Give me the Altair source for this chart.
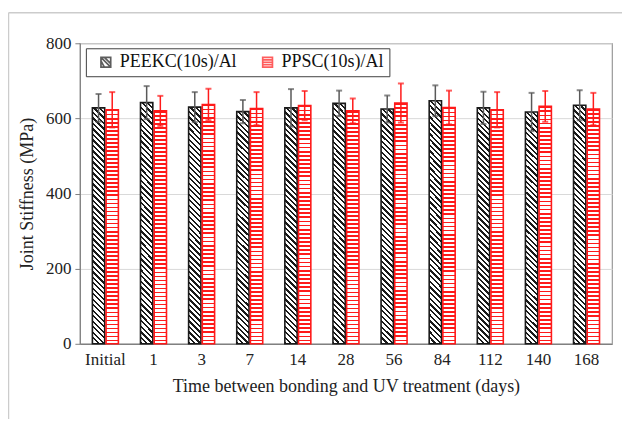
import altair as alt
import pandas as pd

days = ["Initial", "1", "3", "7", "14", "28", "56", "84", "112", "140", "168"]
series_names = ["PEEKC(10s)/Al", "PPSC(10s)/Al"]
peekc = [628, 642, 630, 618, 628, 640, 625, 647, 628, 617, 635]
peekc_err = [37, 44, 40, 31, 50, 34, 36, 41, 43, 51, 40]
ppsc = [623, 620, 637, 626, 634, 620, 641, 629, 623, 632, 625]
ppsc_err = [47, 40, 42, 44, 39, 33, 52, 45, 47, 41, 43]

rows = []
for d, v, e in zip(days, peekc, peekc_err):
    rows.append({"day": d, "series": series_names[0], "value": v, "lo": v - e, "hi": v + e})
for d, v, e in zip(days, ppsc, ppsc_err):
    rows.append({"day": d, "series": series_names[1], "value": v, "lo": v - e, "hi": v + e})
df = pd.DataFrame(rows)

FONT = "Liberation Serif"
RED = "#ff1a1a"
BLACK = "#1a1a1a"
TXT = "#222222"


def stripe_stops(n, period, frac, line, bg):
    stops = []
    for k in range(n):
        a = k * period
        b = a + frac * period
        c = a + period
        if c > 1:
            break
        stops += [
            {"offset": round(a, 6), "color": line},
            {"offset": round(b, 6), "color": line},
            {"offset": round(b, 6), "color": bg},
            {"offset": round(c, 6), "color": bg},
        ]
    return stops


# horizontal red lines
red_grad = {
    "gradient": "linear", "x1": 0, "y1": 0, "x2": 0, "y2": 1,
    "stops": stripe_stops(58, 1 / 58, 0.42, RED, "white"),
}
# diagonal "\" hatch for black bars (bbox-relative gradient)
w_bar = 12.33
r = 19.16
den = w_bar * (1 + r * r)
black_grad = {
    "gradient": "linear", "x1": 0, "y1": 1, "x2": 1, "y2": 1 - r,
    "stops": stripe_stops(62, 5.5 / den, 0.42, BLACK, "white"),
}

x_enc = alt.X("day:N", sort=days, scale=alt.Scale(paddingInner=0.46, paddingOuter=0.26),
              axis=alt.Axis(title="Time between bonding and UV treatment (days)", labelAngle=0,
                            ticks=False, labelPadding=8, titlePadding=10,
                            labelFont=FONT, titleFont=FONT, labelFontSize=17, titleFontSize=18,
                            labelColor=TXT, titleColor=TXT, titleFontWeight="normal",
                            domainColor="#808080", domainWidth=1.2))
xo_enc = alt.XOffset("series:N", sort=series_names,
                     scale=alt.Scale(domain=series_names, paddingInner=0.1, paddingOuter=0))
y_scale = alt.Scale(domain=[0, 800])
y_enc = alt.Y("value:Q", scale=y_scale,
              axis=alt.Axis(title="Joint Stiffness (MPa)", values=[0, 200, 400, 600, 800],
                            tickSize=5, labelPadding=4, titlePadding=9,
                            labelFont=FONT, titleFont=FONT, labelFontSize=17, titleFontSize=18,
                            labelColor=TXT, titleColor=TXT, titleFontWeight="normal",
                            grid=True, gridColor="#d9d9d9", domainColor="#808080",
                            tickColor="#808080"))

base = alt.Chart(df)

bars_a = base.transform_filter(alt.datum.series == series_names[0]).mark_bar(
    fill=black_grad, stroke=BLACK, strokeWidth=1.6
).encode(x=x_enc, xOffset=xo_enc, y=y_enc)

bars_b = base.transform_filter(alt.datum.series == series_names[1]).mark_bar(
    fill=red_grad, stroke=RED, strokeWidth=1.6
).encode(x=x_enc, xOffset=xo_enc, y=y_enc)

err_col = alt.Color("series:N", scale=alt.Scale(domain=series_names, range=["#595959", RED]), legend=None)

err_rule = base.mark_rule(strokeWidth=1.5).encode(
    x=x_enc, xOffset=xo_enc, y=alt.Y("lo:Q", scale=y_scale), y2="hi:Q", color=err_col)
cap_hi = base.mark_tick(orient="horizontal", size=6, thickness=2).encode(
    x=x_enc, xOffset=xo_enc, y=alt.Y("hi:Q", scale=y_scale), color=err_col)
cap_lo = base.mark_tick(orient="horizontal", size=6, thickness=2).encode(
    x=x_enc, xOffset=xo_enc, y=alt.Y("lo:Q", scale=y_scale), color=err_col)

sym_a = "M-1,-1H1V1H-1Z M-1,-0.3L-0.3,1 M-1,-1L1,1 M-0.3,-1L1,0.3"
sym_b = "M-1,-1H1V1H-1Z M-1,-0.5H1 M-1,0H1 M-1,0.5H1"
leg = alt.Legend(title=None, orient="none", legendX=6, legendY=5, direction="horizontal",
                 labelFont=FONT, labelFontSize=18, labelColor="#111", symbolSize=95,
                 symbolStrokeWidth=1.7, symbolOffset=6, padding=5, columnPadding=16,
                 labelOffset=5, strokeColor="#404040", fillColor="white")
legend_layer = base.transform_filter(alt.datum.series == "none").mark_point(filled=False).encode(
    x=x_enc, y=y_enc,
    shape=alt.Shape("series:N", scale=alt.Scale(domain=series_names, range=[sym_a, sym_b]), legend=leg),
    stroke=alt.Stroke("series:N", scale=alt.Scale(domain=series_names, range=[BLACK, RED]), legend=leg),
)

frame_df = pd.DataFrame({"k": [0]})
frame_left = alt.Chart(frame_df).mark_rule(color="#cccccc", strokeWidth=1.5).encode(
    x=alt.value(-71.5), y=alt.value(-30.5), y2=alt.value(400))
frame_top = alt.Chart(frame_df).mark_rule(color="#cccccc", strokeWidth=1.5).encode(
    x=alt.value(-71.5), x2=alt.value(560), y=alt.value(-30.5))

chart = alt.layer(
    bars_a, bars_b, err_rule, cap_hi, cap_lo, legend_layer, frame_left, frame_top
).resolve_scale(color="independent").properties(
    width=533, height=301,
    autosize=alt.AutoSizeParams(type="none"),
    padding={"left": 72, "top": 35, "right": 10, "bottom": 75},
).configure_view(stroke="#999999", strokeWidth=1.2)

chart.save("out.html", embed_options={"renderer": "svg", "actions": False})
